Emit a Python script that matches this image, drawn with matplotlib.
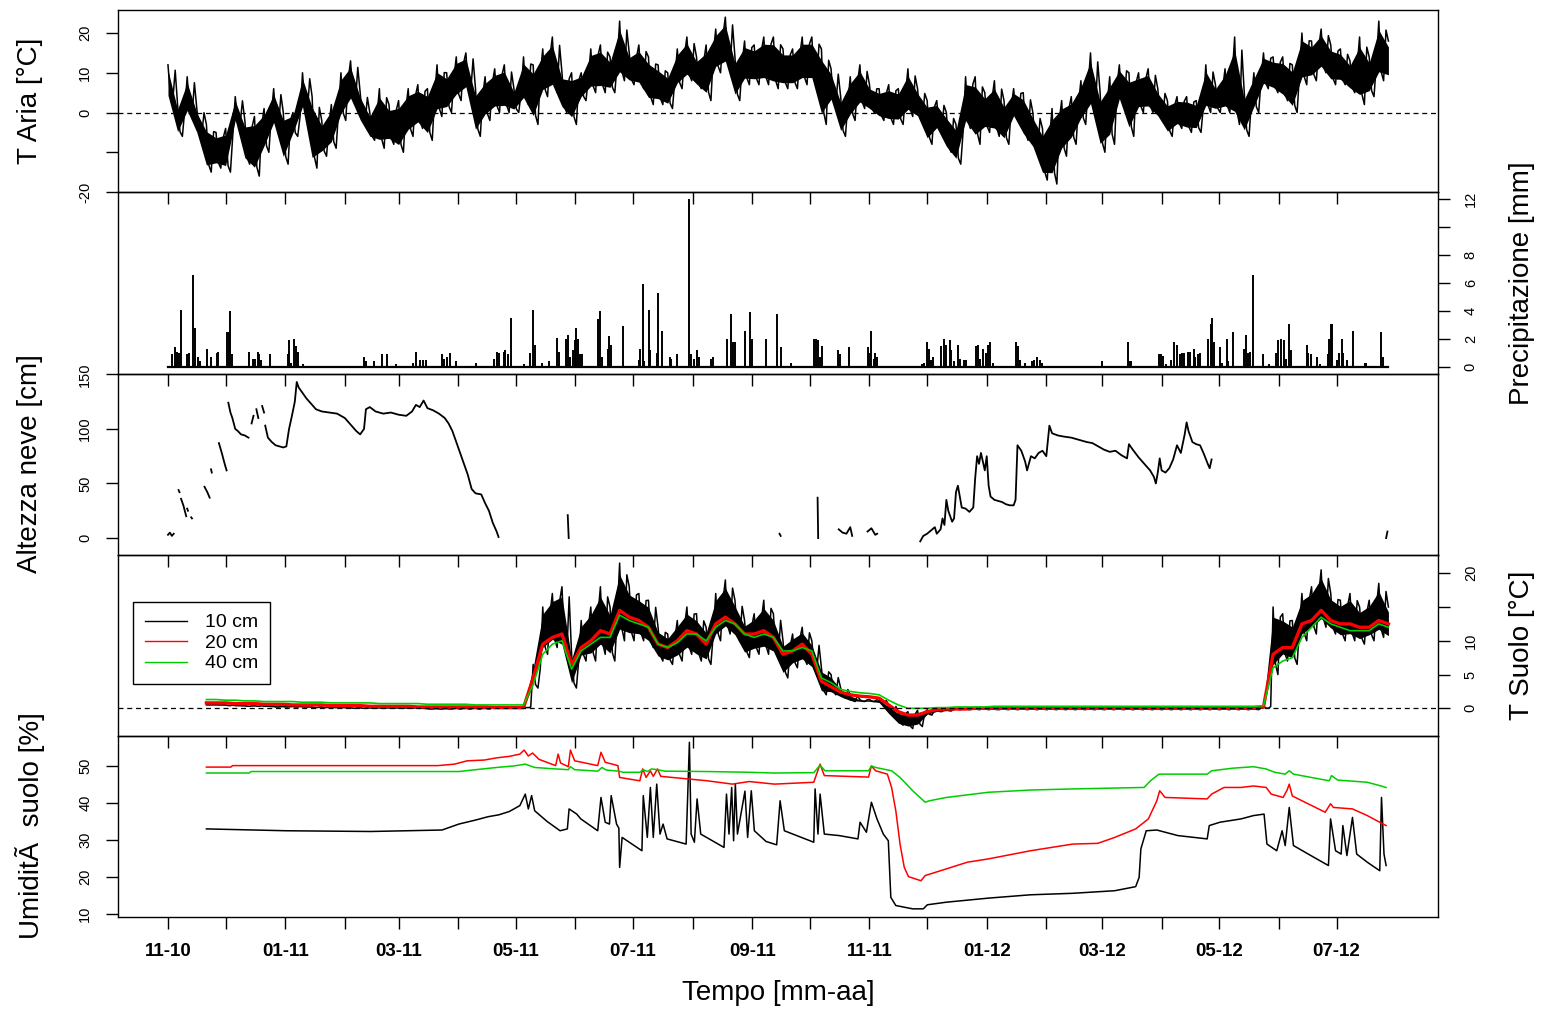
import numpy as np
import pandas as pd
import matplotlib
matplotlib.use("Agg")
import matplotlib.pyplot as plt
from matplotlib.lines import Line2D

plt.rcParams['font.family'] = ['Liberation Sans', 'DejaVu Sans']

nan = np.nan
start = pd.Timestamp("2010-11-01")

# Air temperature: high / low of each 5-day block, days since 2010-11-01
air_days = np.arange(0, 640, 5)
air_hi = [12, 2, 9, 1, -3, -5, -4, 4, -2, -1,
          1, 6, 0, 0, 10, 4, -2, 2, 10, 13,
          5, 0, 6, 2, 3, 6, 7, 6, 12, 10,
          14, 15, 6, 9, 11, 12, 6, 14, 12, 16,
          19, 10, 10, 10, 16, 17, 14, 23, 15, 17,
          14, 12, 10, 16, 19, 14, 17, 21, 24, 14,
          18, 17, 19, 19,
          16, 16, 19, 19, 16, 11, 4, 9, 12, 7,
          6, 7, 6, 11, 6, 3, 3, 0, -3, 9,
          9, 5, 8, 3, 6, 5, 0, -4, 1, 3,
          4, 8, 15, 5, 9, 12, 10, 10, 11, 6,
          3, 4, 4, 3, 12, 7, 11, 19, 5, 10,
          15, 14, 14, 12, 20, 18, 21, 17, 16, 13,
          19, 14, 23, 18]
air_lo = [3, -6, -1, -6, -15, -14, -15, -3, -13, -16,
          -10, -4, -13, -6, 0, -14, -11, -9, -2, 2,
          -3, -7, -9, -8, -10, -6, -4, -7, -1, 0,
          3, 5, -6, -2, 0, 0, 0, 2, -3, 4,
          5, 0, -3, 3, 5, 5, 5, 8, 7, 6,
          2, 2, 1, 6, 8, 6, 3, 10, 11, 3,
          7, 7, 7, 6,
          6, 6, 7, 7, -3, 2, -6, -2, 1, 0,
          -2, -3, -3, -1, -2, -8, -5, -10, -13, -4,
          -8, -5, -6, -8, -2, -7, -10, -17, -18, -11,
          -8, -3, 0, -10, -8, 2, -6, 0, 0, -2,
          -6, -4, -5, -5, 0, 0, 0, -3, -6, 0,
          6, 5, 3, 0, 7, 8, 10, 7, 7, 5,
          2, 4, 8, 8]

# Precipitation events (day, mm)
rain_day = [2.0, 3.5, 4.6, 5.7, 6.8, 10.1, 11.2, 12.9, 14.1, 15.6, 16.7,
            20.4, 22.6, 25.4, 26.1, 30.9, 31.6, 32.2, 33.1,
            42.3, 44.5, 45.2, 46.7, 47.6, 48.4, 53.3,
            62.4, 63.1, 64.2, 65.5, 66.4, 67.7,
            70.3, 76.5, 81.3, 86.1, 90.0,
            102.1, 103.2, 107.1, 111.5, 114.1, 118.5,
            127.3, 129.0, 131.2, 132.5, 134.5,
            142.6, 143.7, 145.2, 147.0, 150.0, 160.1,
            169.5, 171.3, 172.1, 174.8, 175.6, 177.0, 178.7,
            185.1, 188.6, 189.7, 190.8, 194.7, 198.4, 202.6, 203.5,
            207.0, 208.3, 209.4, 210.9, 211.6, 212.4, 213.1, 214.4, 215.5,
            220.3, 223.8, 224.9, 225.8, 229.1, 229.7, 230.6, 236.8,
            245.1, 245.7, 247.0, 247.7, 250.3, 251.0, 254.3, 254.9, 256.9, 257.8,
            261.1, 261.7, 264.8,
            271.3, 272.2, 273.9, 275.0, 276.2, 282.7, 283.6,
            290.8, 293.0, 294.1, 295.0, 300.2, 302.9, 303.7, 310.9, 316.9,
            319.2, 324.4, 336.0, 337.1, 338.2, 339.3, 340.2,
            348.7, 349.8, 354.2, 354.6,
            364.0, 364.9, 366.0, 367.1, 368.0, 368.9,
            392.5, 393.6, 395.1, 395.8, 396.9, 397.8,
            402.4, 403.9, 405.0, 406.7, 407.6, 408.9, 411.1, 412.0, 414.4, 415.3,
            420.3, 421.6, 422.5, 424.0, 425.8, 426.7, 427.5, 429.1,
            441.3, 442.2, 443.3, 446.1, 449.7, 450.7, 452.3, 453.6, 454.9,
            464.5, 465.9, 468.1, 471.8, 486.2, 489.3, 490.4,
            499.6, 500.5, 501.3, 515.6, 516.7, 517.5, 519.3,
            522.1, 523.2, 525.0, 526.5, 527.6, 528.7,
            530.9, 532.0, 533.7, 534.6, 535.9, 537.0,
            541.2, 542.5, 543.4, 544.2, 547.3, 548.4, 550.8, 551.7, 554.3,
            560.0, 561.1, 562.0, 563.1, 564.4, 569.9, 572.7,
            576.7, 577.3, 579.3, 580.6, 581.5, 583.4, 584.5,
            592.6, 593.3, 594.6, 597.7, 599.2,
            603.4, 604.3, 604.9, 605.6, 608.2, 609.1, 610.8, 611.5, 613.4,
            616.7, 619.1, 622.9, 623.5, 631.2, 632.1]
rain_mm = [0.9, 1.4, 1.1, 1.0, 4.1, 0.9, 1.0, 6.6, 2.8, 0.7, 0.4,
           1.3, 0.7, 1.0, 1.1, 2.5, 2.5, 4.0, 0.9,
           1.1, 0.6, 0.6, 1.1, 0.9, 0.5, 0.9,
           0.9, 1.9, 0.3, 2.0, 1.5, 1.1,
           0.2, 0.1, 0.1, 0.1, 0.1,
           0.7, 0.4, 0.4, 0.9, 0.9, 0.2,
           0.3, 1.1, 0.5, 0.5, 0.5,
           0.9, 0.6, 0.7, 1.0, 0.4, 0.3,
           0.6, 1.1, 1.0, 1.1, 1.2, 0.9, 3.5,
           0.2, 1.0, 4.1, 1.6, 0.3, 0.4, 2.1, 1.1,
           2.0, 2.3, 0.7, 1.2, 1.9, 2.8, 2.0, 0.9, 0.9,
           0.1, 3.4, 4.0, 0.7, 1.3, 2.2, 1.6, 2.9,
           0.5, 1.3, 5.9, 0.4, 4.1, 1.2, 1.0, 5.3, 2.6, 0.1,
           0.7, 0.6, 0.9,
           12.0, 0.9, 0.6, 1.2, 0.7, 0.6, 0.7,
           2.0, 3.8, 1.8, 1.8, 2.6, 3.9, 2.0, 2.0, 3.8,
           1.4, 0.3, 2.0, 2.0, 1.9, 0.7, 1.5,
           1.2, 0.9, 0.5, 1.4,
           1.4, 1.0, 2.6, 0.6, 1.0, 0.7,
           0.2, 0.3, 1.8, 1.3, 0.5, 0.7,
           1.5, 2.0, 1.6, 1.9, 1.2, 0.4, 1.6, 0.6, 0.5, 0.5,
           1.5, 1.6, 0.6, 1.3, 1.0, 1.6, 1.8, 0.3,
           1.8, 1.5, 0.5, 0.3, 0.4, 0.5, 0.7, 0.5, 0.3,
           0.1, 0.1, 0.1, 0.1, 0.4, 0.1, 0.1,
           1.8, 0.4, 0.4, 0.9, 0.9, 0.8, 0.2,
           0.5, 1.8, 1.6, 0.9, 1.0, 1.0,
           1.1, 1.1, 1.3, 0.7, 0.9, 1.0,
           2.0, 3.1, 3.5, 1.8, 1.4, 0.3, 2.0, 0.4, 2.5,
           1.3, 2.3, 1.0, 1.1, 6.6, 0.9, 0.2,
           1.0, 1.9, 2.0, 1.9, 0.6, 3.1, 1.2,
           1.6, 1.0, 0.9, 0.7, 0.2,
           0.9, 2.0, 3.1, 3.1, 0.5, 1.0, 2.0, 1.0, 0.5,
           2.6, 0.1, 0.3, 0.3, 2.5, 0.7]

# Snow depth (nan marks missing data)
snow_day = [0, 1, 2, 3, nan, 5.5, 6.0, nan, 6.8, 8, 9.5, nan, 10.0, 10.4, nan,
            12.1, 12.5, nan, 19, 20.5, 21.7, nan, 22.4, 22.8, nan,
            26.5, 28, 29.5, 30.5, nan,
            31.4, 32.5, 33.5, 35, 36.4, 38, 40, 41.9, nan,
            43.5, 44.5, nan, 46, 47, nan, 49, 50, nan,
            50.6, 52, 54, 56, 58, 60, 61.6, 63, 64.5, 66, 67, 68, 70, 72, 74,
            77, 80, 84, 88, 92, 95, 98, 100, 102, 103, 105, 108, 112, 116,
            120, 124, 127, 129, 131, 133, 135, 138, 141, 144, 146, 148, 150,
            152, 154, 156, 158, 160, 163, 165, 167, 169, 171, 172, nan,
            208, 208.5, nan, 318.2, 318.8, nan, 338, 338.3, nan,
            349, 351, 353, 355, 356, nan, 364, 366, 368, 369, nan,
            391.4, 393, 395, 397, 399, 400, 402, 403, 404, 405, 406, 407, 408,
            409, 410, 411, 412, 413, 415, 417, 419, 420, 421, 422, 423, 425,
            426, 427, 428, 430, 432, 434, 436, 438, 440, 441, 442, 444, 446,
            447, 449, 451, 453, 455, 457, 458.6, 460, 463, 466, 470, 474, 478,
            481, 484, 487, 490, 493, 496, 499, 500, 502, 505, 508, 511, 513,
            514, 515, 516, 517, 519, 521, 523, 525, 527, 529, 530, 531, 533,
            535, 537, 539, 541, 542, 543, nan, 633.8, 634.5]
snow_cm = [3, 5, 2, 4, nan, 44, 42, nan, 36, 30, 20, nan, 27, 25, nan,
           19, 18, nan, 47, 42, 37, nan, 63, 60, nan,
           87, 78, 68, 62, nan,
           124, 115, 110, 100, 98, 95, 94, 92, nan,
           105, 112, nan, 118, 110, nan, 121, 115, nan,
           103, 92, 88, 85, 84, 83, 84, 100, 112, 125, 143, 138, 133, 128, 124,
           118, 116, 115, 114, 110, 104, 98, 95, 100, 118, 120, 116, 114, 115,
           113, 112, 116, 122, 120, 126, 119, 117, 114, 110, 105, 98, 88,
           78, 68, 58, 45, 41, 40, 32, 25, 14, 6, 1, nan,
           21, 0, nan, 4, 2, nan, 37, 0, nan,
           8, 5, 4, 10, 2, nan, 6, 9, 3, 4, nan,
           -3, 2, 4, 7, 10, 4, 8, 18, 12, 35, 25, 20, 15,
           18, 42, 48, 38, 28, 27, 24, 28, 55, 75, 68, 78, 62,
           75, 48, 38, 35, 34, 33, 31, 30, 30, 35, 85, 80, 70,
           62, 75, 73, 78, 80, 75, 103, 96, 94, 93, 92, 90, 88,
           87, 84, 81, 79, 80, 76, 73, 86, 81, 74, 68, 62, 56,
           50, 60, 73, 62, 60, 64, 72, 85, 78, 95, 106, 98, 88,
           86, 85, 77, 68, 64, 72, nan, 0, 6]

# Soil temperature at 10/20/40 cm, 5-day steps from day 20
soil_days = np.arange(20, 640, 5)
t10_hi = [0.5, 0.5, 0.5, 0.4, 0.4, 0.4, 0.3, 0.3, 0.3, 0.3,
          0.2, 0.2, 0.2, 0.2, 0.1, 0.1, 0.1, 0.1, 0.1, 0.1,
          0.1, 0.1, 0.0, 0.0, 0.0, 0.0, 0.1, 0.1, 0.1, 0.1,
          0.1, 0.1, 0.1, 0.2,
          6.5, 15, 17, 18, 8, 13, 15, 18, 15, 21.5,
          18, 17, 16, 12, 11, 13, 15, 14, 12, 17,
          19, 16, 13, 14, 16, 14, 10, 11, 12, 10,
          6, 5, 3, 2, 1.3, 1.3, 1.2, 0.5, -0.5, -0.5,
          -0.3, -0.2, -0.2, -0.1,
          0.0, 0.0, 0.0, 0.0, -0.1, 0.0, 0.0, 0.0, 0.0, 0.0,
          0.0, 0.0, 0.0, 0.0, 0.0, 0.0, 0.0, 0.0, 0.0, 0.0,
          0.0, 0.0, 0.0, 0.0, 0.0, 0.0, 0.0, 0.0, 0.0, 0.0,
          0.0, 0.1,
          0.3, 15, 14, 13, 17, 18, 20.5, 17, 16, 17, 15, 16, 18.5, 15]
t10_lo = [0.5, 0.5, 0.4, 0.4, 0.3, 0.3, 0.3, 0.2, 0.2, 0.2,
          0.2, 0.1, 0.1, 0.1, 0.1, 0.0, 0.0, 0.0, 0.0, 0.0,
          0.0, 0.0, 0.0, -0.1, -0.1, -0.1, -0.1, -0.1, -0.1, -0.1,
          0.0, 0.0, 0.0, 0.1,
          3, 8, 9, 8, 3, 7, 7, 8, 7, 10,
          10, 10, 9, 7, 6.5, 7, 8, 7, 6.5, 10,
          11, 10, 7.5, 8, 8, 7.5, 4.5, 6, 6.5, 5.5,
          2, 2, 1.5, 1, 1.0, 1.0, 0.8, -1.0, -2.5, -3.0,
          -2.7, -1.0, -0.5, -0.4,
          -0.2, -0.2, -0.2, -0.2, -0.2, -0.2, -0.2, -0.2, -0.2, -0.2,
          -0.2, -0.2, -0.2, -0.2, -0.2, -0.2, -0.2, -0.2, -0.2, -0.2,
          -0.2, -0.2, -0.2, -0.2, -0.2, -0.2, -0.2, -0.2, -0.2, -0.2,
          -0.2, -0.2,
          0.0, 5, 7, 6.5, 10, 11, 12, 11, 10, 10, 9.5, 10, 10.5, 10]
t20 = [0.8, 0.8, 0.8, 0.7, 0.7, 0.7, 0.6, 0.6, 0.6, 0.5,
       0.5, 0.5, 0.5, 0.4, 0.4, 0.4, 0.4, 0.3, 0.3, 0.3,
       0.3, 0.3, 0.2, 0.2, 0.2, 0.2, 0.2, 0.2, 0.2, 0.2,
       0.1, 0.1, 0.1, 0.1,
       4.5, 9.5, 10.5, 11, 6.5, 9, 10, 11.5, 11, 14.5,
       13.5, 13, 12, 9.5, 9, 10, 11.5, 11, 9.5, 12.5,
       13.5, 12.5, 11, 11, 11.5, 10.5, 8, 8.5, 9.5, 8,
       4, 3.2, 2.4, 2.0, 1.8, 1.7, 1.5, 0.5, -0.5, -1.0,
       -1.0, -0.5, -0.2, -0.1,
       -0.1, -0.1, 0.0, 0.0, 0.0, 0.0, 0.0, 0.0, 0.0, 0.0,
       0.0, 0.0, 0.0, 0.0, 0.0, 0.0, 0.0, 0.0, 0.0, 0.0,
       0.0, 0.0, 0.0, 0.0, 0.0, 0.0, 0.0, 0.0, 0.0, 0.0,
       0.0, 0.0,
       0.2, 8, 9, 9, 12.5, 13, 14.5, 13, 12.5, 12.5, 12, 12, 13, 12.5]
t40 = [1.3, 1.3, 1.2, 1.2, 1.1, 1.1, 1.0, 1.0, 1.0, 1.0,
       0.9, 0.9, 0.9, 0.8, 0.8, 0.8, 0.8, 0.8, 0.7, 0.7,
       0.7, 0.7, 0.7, 0.6, 0.6, 0.6, 0.6, 0.6, 0.5, 0.5,
       0.5, 0.5, 0.5, 0.5,
       3.5, 8, 9.5, 10, 5.8, 8.5, 9.5, 10.5, 10.5, 13.8,
       13, 12.5, 12, 9.5, 9, 9.7, 11, 11, 10, 12,
       13, 12.5, 11, 10.5, 11, 10.5, 8.5, 8.5, 9, 8.5,
       4.5, 3.8, 2.8, 2.5, 2.3, 2.2, 2.0, 1.2, 0.5, 0.0,
       0.0, 0.0, 0.1, 0.1,
       0.2, 0.2, 0.2, 0.2, 0.3, 0.3, 0.3, 0.3, 0.3, 0.3,
       0.3, 0.3, 0.3, 0.3, 0.3, 0.3, 0.3, 0.3, 0.3, 0.3,
       0.3, 0.3, 0.3, 0.3, 0.3, 0.3, 0.3, 0.3, 0.3, 0.3,
       0.3, 0.3,
       0.4, 6, 7, 7.5, 10.5, 12, 13.5, 12.5, 12, 11.5, 11.5, 11.5, 12.5, 12]

# Soil moisture at 10/20/40 cm
m10_day = [20.0, 61.6, 105.4, 142.6, 151.3, 160.1, 166.6, 172.1, 177.6, 183.1,
           185.9, 187.5, 189.2, 190.8, 197.3, 204.0, 207.8, 208.7, 212.7, 214.8,
           223.6, 225.3, 227.5, 229.7, 230.6, 233.4, 234.6, 235.0, 236.3, 246.6,
           247.3, 249.4, 251.0, 252.5, 254.3, 256.0, 257.6, 259.7, 269.6, 271.3,
           272.2, 273.9, 275.3, 277.2, 289.3, 290.6, 291.9, 293.3, 294.3, 295.2,
           296.3, 300.2, 301.6, 303.5, 305.1, 311.2, 316.7, 318.5, 320.7, 336.0,
           336.7, 338.2, 339.3, 341.5, 349.2, 359.0, 360.1, 363.4, 366.0, 368.9,
           372.2, 374.8, 376.1, 378.7, 387.5, 393.0, 395.1, 405.0, 426.9, 448.8,
           470.7, 492.6, 503.5, 505.3, 506.2, 509.0, 514.5, 525.4, 540.7, 541.8,
           547.3, 558.3, 564.8, 570.3, 571.8, 576.9, 579.7, 581.3, 583.4, 585.6,
           593.3, 603.8, 604.9, 607.5, 610.4, 611.3, 613.4, 616.3, 618.5, 624.0,
           630.5, 631.4, 632.7, 633.8]
m10_val = [33.0, 32.5, 32.3, 32.7, 34.3, 35.4, 36.3, 36.8, 37.7, 39.3,
           42.4, 38.4, 42.0, 37.9, 35.0, 32.5, 33.0, 38.4, 37.0, 35.7,
           32.5, 41.5, 34.8, 34.3, 42.0, 34.3, 33.2, 22.6, 30.7, 27.1,
           42.0, 30.7, 44.2, 30.7, 45.1, 31.6, 34.3, 30.3, 28.9, 56.4,
           31.6, 29.4, 41.1, 31.6, 28.0, 42.4, 31.6, 44.2, 29.8, 45.1,
           31.6, 43.2, 30.7, 43.3, 32.5, 29.6, 28.7, 40.6, 32.5, 29.4,
           43.8, 31.6, 42.4, 31.6, 31.2, 30.3, 34.8, 32.1, 40.2, 35.7,
           31.6, 29.8, 14.5, 12.3, 11.4, 11.4, 12.5, 13.2, 14.3, 15.2,
           15.6, 16.3, 17.4, 19.9, 27.6, 32.5, 32.7, 31.2, 30.3, 33.9,
           34.8, 35.7, 36.6, 37.0, 28.9, 27.1, 32.5, 28.5, 38.8, 28.5,
           26.2, 23.1, 35.7, 27.1, 26.2, 33.9, 25.8, 36.1, 26.2, 24.0,
           21.7, 41.5, 26.2, 23.1]
m20_day = [20.0, 32.7, 33.6, 140.4, 149.1, 155.7, 164.5, 171.1, 177.6, 183.1,
           185.3, 187.5, 189.7, 193.0, 201.7, 203.0, 204.3, 208.3, 209.4, 211.6,
           223.6, 225.3, 227.5, 234.1, 235.0, 245.5, 247.0, 248.8, 251.0, 252.5,
           254.7, 256.4, 280.6, 293.7, 302.4, 315.6, 336.0, 339.3, 341.5, 364.5,
           366.0, 368.2, 374.3, 376.5, 378.7, 380.9, 383.1, 385.3, 391.8, 394.0,
           405.0, 415.9, 426.9, 448.8, 470.7, 483.8, 492.6, 503.5, 510.1, 514.5,
           516.0, 518.8, 540.7, 543.0, 549.5, 558.3, 564.8, 571.4, 574.0, 580.2,
           582.3, 583.4, 585.0, 602.1, 604.9, 606.4, 616.3, 624.0, 630.5, 633.8]
m20_val = [49.7, 49.7, 50.1, 50.1, 50.5, 51.4, 51.6, 52.2, 52.6, 53.2,
           54.3, 52.7, 53.5, 51.8, 50.1, 53.2, 50.8, 49.8, 54.3, 51.4,
           50.1, 53.7, 51.0, 50.1, 46.9, 46.0, 49.2, 46.9, 48.7, 47.2,
           49.2, 47.2, 46.0, 45.1, 45.8, 45.1, 45.6, 50.5, 47.4, 47.0,
           50.0, 48.7, 47.8, 44.2, 37.9, 28.9, 22.6, 20.1, 19.0, 20.4,
           22.2, 24.0, 24.9, 27.1, 28.9, 29.1, 30.7, 33.0, 35.7, 40.6,
           43.3, 41.5, 41.1, 42.4, 44.2, 44.2, 44.6, 44.2, 42.4, 41.5,
           43.5, 45.1, 41.9, 37.5, 39.8, 38.8, 38.4, 36.6, 34.8, 33.9]
m40_day = [20.0, 42.3, 43.2, 151.3, 160.1, 171.1, 179.8, 185.9, 190.8, 201.7,
           208.3, 209.4, 211.6, 223.6, 225.8, 228.0, 234.6, 236.8, 245.5, 247.3,
           249.4, 251.6, 254.7, 258.6, 280.6, 302.4, 315.6, 336.0, 339.3, 341.9,
           364.5, 366.0, 368.2, 376.5, 380.9, 387.5, 394.0, 396.2, 405.0, 426.9,
           448.8, 470.7, 507.9, 511.2, 515.6, 540.7, 543.0, 553.9, 564.8, 571.4,
           575.8, 581.3, 583.4, 585.6, 604.2, 605.4, 608.6, 624.0, 630.5, 633.8]
m40_val = [48.1, 48.1, 48.5, 48.5, 49.0, 49.6, 50.0, 50.5, 49.6, 49.2,
           49.0, 49.8, 49.0, 48.6, 49.6, 48.9, 48.6, 48.3, 48.3, 49.0,
           48.5, 49.2, 49.0, 48.6, 48.5, 48.3, 48.1, 48.2, 50.2, 48.7,
           48.7, 50.0, 49.6, 48.7, 46.9, 43.3, 40.2, 40.6, 41.5, 42.9,
           43.5, 43.8, 44.2, 46.0, 47.8, 47.8, 48.7, 49.4, 49.8, 49.2,
           48.3, 47.8, 48.7, 47.8, 46.0, 47.4, 46.2, 45.6, 44.7, 44.2]

depth_labels = ["10 cm", "20 cm", "40 cm"]
depth_colors = ["black", "#FF0000", "#00CD00"]

months = pd.date_range("2010-11-01", "2012-07-01", freq="MS")
month_days = (months - start).days
month_labels = [m.strftime("%m-%y") if i % 2 == 0 else "" for i, m in enumerate(months)]


def noisy_trace(ax, days, hi, lo, color, lw=1.0):
    # solid band between block lows and highs, with a zigzag over it for the spiky edge
    days = np.asarray(days, dtype=float)
    hi = np.asarray(hi, dtype=float)
    lo = np.asarray(lo, dtype=float)
    core_hi = lo + 0.85 * (hi - lo)
    core_lo = lo + 0.15 * (hi - lo)
    ax.fill_between(days, core_lo, core_hi, color=color, lw=0)
    x = np.column_stack([days, days + 1.25, days + 2.5, days + 3.75]).ravel()
    y = np.column_stack([hi, core_lo, lo, core_hi]).ravel()
    keep = x <= days[-1]
    ax.plot(x[keep], y[keep], color=color, lw=lw)


W, H = 1547, 1011
fig = plt.figure(figsize=(W / 100, H / 100), dpi=100)
tops = [10, 192, 374, 555, 736]
bots = [192, 374, 555, 736, 917]
axes = []
for t, b in zip(tops, bots):
    ax = fig.add_axes([118 / W, 1 - b / H, 1320 / W, (b - t) / H])
    ax.patch.set_alpha(0)
    ax.set_xlim(-26, 660.8)
    ax.set_xticks(month_days)
    ax.set_xticklabels(month_labels)
    ax.tick_params(axis="x", direction="out", length=8.6, width=1, labelbottom=False,
                   pad=10, labelsize=13.5)
    ax.tick_params(axis="y", direction="out", length=8.6, width=1, labelsize=10.5,
                   labelrotation=90, pad=10)
    for s in ax.spines.values():
        s.set_linewidth(1.0)
    axes.append(ax)
ax1, ax2, ax3, ax4, ax5 = axes

# air temperature
noisy_trace(ax1, air_days, air_hi, air_lo, "black", lw=1.1)
ax1.axhline(0, color="black", lw=0.9, ls=(0, (4, 3)))
ax1.set_ylim(-19.8, 25.8)
ax1.set_yticks([-20, -10, 0, 10, 20])
ax1.set_yticklabels(["-20", "", "0", "10", "20"])

# precipitation
ax2.plot([air_days[0], air_days[-1]], [0, 0], color="black", lw=1.6)
ax2.vlines(rain_day, 0, rain_mm, color="black", lw=1.4)
ax2.set_ylim(-0.5, 12.5)
ax2.yaxis.tick_right()
ax2.set_yticks(range(0, 13, 2))
ax2.set_yticklabels(["0", "2", "4", "6", "8", "", "12"])

# snow depth
ax3.plot(snow_day, snow_cm, color="black", lw=1.3)
ax3.set_ylim(-15.5, 150.3)
ax3.set_yticks([0, 50, 100, 150])

# soil temperature
noisy_trace(ax4, soil_days, t10_hi, t10_lo, depth_colors[0], lw=1.1)
ax4.plot(soil_days, t20, color=depth_colors[1], lw=2.4)
ax4.plot(soil_days, t40, color=depth_colors[2], lw=1.2)
ax4.axhline(0, color="black", lw=0.9, ls=(0, (4, 3)))
ax4.set_ylim(-4.1, 22.7)
ax4.yaxis.tick_right()
ax4.set_yticks([0, 5, 10, 15, 20])
ax4.set_yticklabels(["0", "5", "10", "", "20"])
handles = [Line2D([], [], color=c, lw=1) for c in depth_colors]
leg = ax4.legend(handles, depth_labels, loc="upper left", bbox_to_anchor=(0.0114, 0.74),
                 borderaxespad=0, fancybox=False, fontsize=14, labelspacing=0.15,
                 handlelength=2.2, handletextpad=0.9, borderpad=0.6, framealpha=1)
leg.get_frame().set_edgecolor("black")
leg.get_frame().set_linewidth(1.0)

# soil moisture
ax5.plot(m10_day, m10_val, color=depth_colors[0], lw=1.1)
ax5.plot(m20_day, m20_val, color=depth_colors[1], lw=1.1)
ax5.plot(m40_day, m40_val, color=depth_colors[2], lw=1.1)
ax5.set_ylim(9.2, 58.1)
ax5.set_yticks([10, 20, 30, 40, 50])
ax5.tick_params(axis="x", labelbottom=True)
for lbl in ax5.get_xticklabels():
    lbl.set_fontweight("bold")

for ax in axes:
    for lbl in ax.get_yticklabels():
        lbl.set_va("center")

fig.text(30 / W, 1 - 101 / H, "T Aria [°C]", rotation=90, ha="center", va="center", fontsize=20)
fig.text(30 / W, 1 - 464 / H, "Altezza neve [cm]", rotation=90, ha="center", va="center", fontsize=20)
fig.text(30 / W, 1 - 826 / H, "UmiditÃ  suolo [%]", rotation=90, ha="center", va="center", fontsize=20)
fig.text(1522 / W, 1 - 283 / H, "Precipitazione [mm]", rotation=90, ha="center", va="center", fontsize=20)
fig.text(1522 / W, 1 - 645 / H, "T Suolo [°C]", rotation=90, ha="center", va="center", fontsize=20)
fig.text(778 / W, 1 - 993 / H, "Tempo [mm-aa]", ha="center", va="center", fontsize=20)

fig.savefig("out.png", dpi=100, facecolor="white")
